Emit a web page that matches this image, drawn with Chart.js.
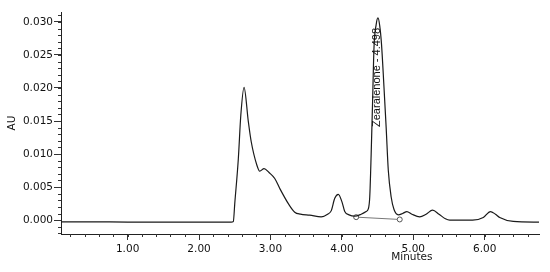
<!DOCTYPE html>
<html>
<head>
<meta charset="utf-8">
<script src="https://cdn.jsdelivr.net/npm/chart.js@4.4.1/dist/chart.umd.min.js"></script>
<style>
  html, body { margin: 0; padding: 0; background: #fff; }
  #wrap { width: 550px; height: 272px; }
</style>
</head>
<body>
<div id="wrap"><canvas id="chrom"></canvas></div>
<script>
// chromatogram trace (minutes, AU)
const times = [0.07, 0.5, 1.0, 1.5, 2.0, 2.45, 2.48, 2.50, 2.55, 2.585, 2.63, 2.69, 2.73, 2.81, 2.85,
  2.91, 2.98, 3.06, 3.13, 3.25, 3.34, 3.42, 3.55, 3.71, 3.80, 3.85, 3.90, 3.95, 4.00, 4.04, 4.10,
  4.18, 4.27, 4.34, 4.37, 4.39, 4.41, 4.43, 4.45, 4.48, 4.505, 4.53, 4.555, 4.59, 4.62, 4.65, 4.69,
  4.73, 4.79, 4.85, 4.91, 4.98, 5.09, 5.18, 5.27, 5.36, 5.45, 5.51, 5.70, 5.83, 5.98, 6.08, 6.15,
  6.21, 6.40, 6.76];
const absorb = [-0.00025, -0.00025, -0.0003, -0.0003, -0.0003, -0.0003, -0.0002, 0.0025, 0.0093, 0.0159, 0.0201, 0.0149, 0.0119, 0.0083, 0.0074,
  0.0078, 0.0072, 0.0063, 0.0048, 0.0025, 0.0012, 0.0009, 0.00075, 0.0005, 0.0009, 0.0014, 0.0033, 0.0039, 0.0028, 0.0013, 0.0008,
  0.0006, 0.0009, 0.0013, 0.0017, 0.0035, 0.010, 0.018, 0.0262, 0.0296, 0.0306, 0.0294, 0.0266, 0.020, 0.014, 0.0075, 0.0035,
  0.0016, 0.0008, 0.0010, 0.0013, 0.0009, 0.0005, 0.0009, 0.0015, 0.0009, 0.0002, 0.0000, 0.0000, 0.0000, 0.0004, 0.0013, 0.0009,
  0.0004, -0.0002, -0.0003];

// integration baseline under the zearalenone peak
const baseTimes = [4.20, 4.81];
const baseAbsorb = [0.00045, 0.0001];

const peakName = 'Zearalenone - 4.498';
const peakTime = 4.498;

const xTicks = [1, 2, 3, 4, 5, 6];
const yTicks = [0, 0.005, 0.010, 0.015, 0.020, 0.025, 0.030];
const xMinorStep = 0.2;
const yMinorStep = 0.001;

const FONT = "'DejaVu Sans', sans-serif";

// minor ticks + x title + peak label
const extras = {
  id: 'extras',
  afterDraw(chart) {
    const ctx = chart.ctx;
    const xs = chart.scales.x, ys = chart.scales.y;
    const area = chart.chartArea;
    ctx.save();
    ctx.strokeStyle = '#333';
    ctx.lineWidth = 1;
    ctx.beginPath();
    for (let v = Math.ceil(xs.min / xMinorStep) * xMinorStep; v <= xs.max; v += xMinorStep) {
      const px = Math.round(xs.getPixelForValue(v)) + 0.5;
      ctx.moveTo(px, area.bottom);
      ctx.lineTo(px, area.bottom + 3);
    }
    for (let v = Math.ceil(ys.min / yMinorStep) * yMinorStep; v <= ys.max; v += yMinorStep) {
      const py = Math.round(ys.getPixelForValue(v)) + 0.5;
      ctx.moveTo(area.left, py);
      ctx.lineTo(area.left - 3, py);
    }
    ctx.stroke();

    ctx.fillStyle = '#111';
    ctx.font = '10.5px ' + FONT;
    ctx.textAlign = 'center';
    ctx.textBaseline = 'middle';
    ctx.fillText('Minutes', xs.getPixelForValue(4.98), 257);

    ctx.translate(xs.getPixelForValue(peakTime), ys.getPixelForValue(0.0141));
    ctx.rotate(-Math.PI / 2);
    ctx.font = "11px 'Liberation Sans', Arial, sans-serif";
    ctx.textAlign = 'left';
    ctx.fillText(peakName, 0, 0);
    ctx.restore();
  }
};

new Chart(document.getElementById('chrom'), {
  type: 'line',
  data: {
    datasets: [{
      data: times.map((t, i) => ({ x: t, y: absorb[i] })),
      borderColor: '#1a1a1a',
      borderWidth: 1.2,
      pointRadius: 0,
      cubicInterpolationMode: 'monotone'
    }, {
      data: baseTimes.map((t, i) => ({ x: t, y: baseAbsorb[i] })),
      borderColor: '#777',
      borderWidth: 1,
      pointRadius: 2.5,
      pointBackgroundColor: '#fff',
      pointBorderColor: '#555',
      pointBorderWidth: 1
    }]
  },
  options: {
    responsive: true,
    maintainAspectRatio: false,
    animation: false,
    layout: { padding: { top: 12, right: 11, left: 0, bottom: 0 } },
    plugins: { legend: { display: false }, tooltip: { enabled: false } },
    scales: {
      x: {
        type: 'linear',
        min: 0.067,
        max: 6.76,
        afterBuildTicks: s => { s.ticks = xTicks.map(v => ({ value: v })); },
        afterFit: s => { s.height = 38; },
        grid: { drawOnChartArea: false, tickLength: 6, color: '#333' },
        border: { display: true, color: '#222', width: 1 },
        ticks: {
          color: '#111',
          font: { family: FONT, size: 10.5 },
          padding: 3,
          maxRotation: 0,
          callback: v => v.toFixed(2)
        }
      },
      y: {
        type: 'linear',
        min: -0.0021,
        max: 0.0315,
        afterBuildTicks: s => { s.ticks = yTicks.map(v => ({ value: v })); },
        afterFit: s => { s.width = 61; },
        grid: { drawOnChartArea: false, tickLength: 7, color: '#333' },
        border: { display: true, color: '#222', width: 1 },
        title: { display: true, text: 'AU', color: '#111', font: { family: FONT, size: 10.5 }, padding: { top: 6, bottom: 0 } },
        ticks: {
          color: '#111',
          font: { family: FONT, size: 10.5 },
          padding: 1,
          callback: v => v.toFixed(3)
        }
      }
    }
  },
  plugins: [extras]
});
</script>
</body>
</html>
